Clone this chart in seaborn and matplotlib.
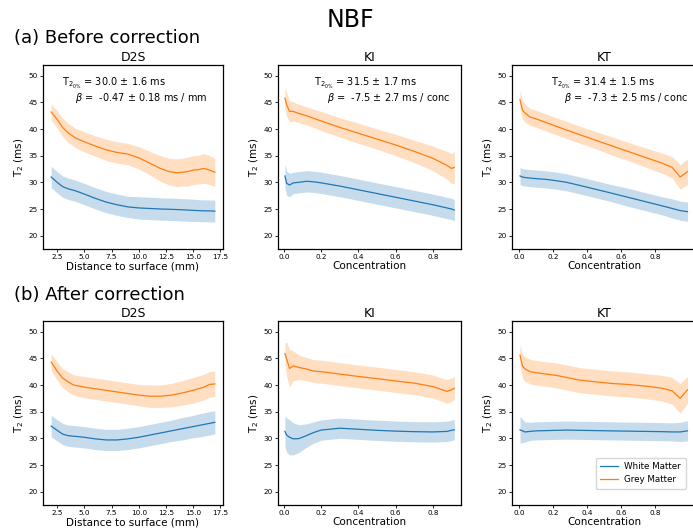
import numpy as np
import pandas as pd
import matplotlib
matplotlib.use('Agg')
import matplotlib.pyplot as plt
import seaborn as sns

# ---- data (mean and sd of T2 in ms) ----
d2s_x = [1.95, 2.5, 3.0, 3.5, 4.2, 5.0, 6.0, 7.0, 8.0, 9.0, 10.0, 11.0,
         12.0, 12.8, 13.5, 14.0, 14.5, 15.0, 15.5, 16.0, 16.5, 17.0]
wm_d2s_before = [31.0, 30.0, 29.2, 28.8, 28.4, 27.8, 27.0, 26.3, 25.8, 25.4, 25.2, 25.1,
                 25.0, 24.95, 24.9, 24.85, 24.8, 24.75, 24.7, 24.65, 24.65, 24.6]
wm_d2s_before_sd = [2.0, 2.0, 2.0, 2.0, 2.0, 2.0, 2.0, 2.0, 2.0, 2.0, 2.1, 2.1,
                    2.1, 2.1, 2.1, 2.1, 2.1, 2.1, 2.05, 2.05, 2.05, 2.05]
gm_d2s_before = [43.2, 41.8, 40.3, 39.3, 38.3, 37.6, 36.8, 36.1, 35.6, 35.3, 34.6, 33.6,
                 32.6, 32.0, 31.8, 31.9, 32.0, 32.3, 32.4, 32.6, 32.3, 31.9]
gm_d2s_before_sd = [1.5, 1.6, 1.7, 1.8, 1.8, 1.9, 1.9, 2.0, 2.0, 2.0, 2.1, 2.2,
                    2.4, 2.5, 2.6, 2.6, 2.7, 2.7, 2.7, 2.8, 2.7, 2.6]

d2s_x_after = [1.95, 2.5, 3.0, 3.5, 4.0, 5.0, 6.0, 7.0, 8.0, 9.0, 10.0, 11.0,
               12.0, 13.0, 14.0, 15.0, 16.0, 16.5, 17.0]
wm_d2s_after = [32.3, 31.5, 30.8, 30.5, 30.4, 30.2, 29.9, 29.7, 29.7, 29.9, 30.2, 30.6,
                31.0, 31.4, 31.8, 32.2, 32.6, 32.8, 33.0]
wm_d2s_after_sd = [2.0, 2.0, 2.0, 2.0, 2.0, 2.0, 2.0, 2.0, 2.0, 2.0, 2.0, 2.0,
                   2.0, 2.0, 2.1, 2.1, 2.2, 2.2, 2.2]
gm_d2s_after = [44.3, 42.6, 41.3, 40.6, 40.0, 39.6, 39.3, 39.0, 38.7, 38.4, 38.1, 37.9,
                37.9, 38.1, 38.5, 39.0, 39.6, 40.1, 40.2]
gm_d2s_after_sd = [1.6, 1.7, 1.8, 1.9, 1.9, 2.0, 2.0, 2.0, 2.0, 2.0, 2.0, 2.1,
                   2.1, 2.2, 2.3, 2.4, 2.4, 2.4, 2.4]

ki_x = [0.005, 0.015, 0.03, 0.05, 0.08, 0.12, 0.16, 0.2, 0.3, 0.4, 0.5, 0.6,
        0.7, 0.8, 0.875, 0.9, 0.915]
wm_ki_before = [31.2, 29.8, 29.5, 29.9, 30.0, 30.2, 30.1, 29.9, 29.3, 28.6, 27.9, 27.2,
                26.5, 25.8, 25.2, 25.0, 24.8]
wm_ki_before_sd = [2.2, 2.3, 2.2, 2.0, 2.0, 2.0, 2.0, 2.0, 2.0, 2.0, 2.0, 2.0,
                   2.0, 2.0, 2.0, 2.0, 2.0]
gm_ki_before = [45.8, 44.5, 43.3, 43.3, 42.9, 42.5, 42.0, 41.5, 40.3, 39.2, 38.1, 37.0,
                35.8, 34.5, 33.2, 32.6, 32.8]
gm_ki_before_sd = [2.0, 2.2, 2.0, 1.8, 1.7, 1.7, 1.7, 1.8, 1.8, 1.9, 1.9, 2.0,
                   2.1, 2.3, 2.6, 2.8, 3.0]
wm_ki_after = [31.3, 30.6, 30.2, 29.9, 29.95, 30.5, 31.1, 31.55, 31.9, 31.7, 31.5, 31.35,
               31.25, 31.2, 31.3, 31.5, 31.6]
wm_ki_after_sd = [2.8, 3.2, 3.3, 3.0, 2.6, 2.2, 2.0, 1.9, 1.9, 1.9, 1.9, 1.9,
                  1.9, 1.9, 1.9, 1.9, 1.9]
gm_ki_after = [45.9, 44.8, 43.1, 43.6, 43.3, 43.0, 42.6, 42.5, 42.05, 41.6, 41.2, 40.75,
               40.35, 39.7, 38.8, 39.1, 39.4]
gm_ki_after_sd = [2.0, 3.2, 3.5, 2.8, 2.3, 2.2, 2.15, 2.15, 2.15, 2.15, 2.15, 2.15,
                  2.15, 2.15, 2.2, 2.2, 2.2]

kt_x = [0.006, 0.02, 0.035, 0.065, 0.1, 0.16, 0.22, 0.28, 0.36, 0.45, 0.54, 0.64,
        0.74, 0.84, 0.9, 0.947, 0.99]
wm_kt_before = [31.2, 31.0, 30.9, 30.8, 30.7, 30.55, 30.3, 30.0, 29.4, 28.7, 28.0, 27.2,
                26.4, 25.6, 25.1, 24.7, 24.5]
wm_kt_before_sd = [1.6, 1.6, 1.6, 1.6, 1.6, 1.6, 1.6, 1.6, 1.6, 1.6, 1.6, 1.7,
                   1.7, 1.7, 1.8, 1.8, 1.8]
gm_kt_before = [45.5, 43.6, 43.0, 42.25, 41.9, 41.2, 40.5, 39.8, 38.9, 37.9, 36.9, 35.8,
                34.7, 33.6, 32.8, 31.0, 32.0]
gm_kt_before_sd = [1.8, 1.8, 1.7, 1.6, 1.6, 1.6, 1.6, 1.6, 1.6, 1.6, 1.7, 1.7,
                   1.8, 1.9, 2.0, 2.3, 2.4]
wm_kt_after = [31.6, 31.4, 31.2, 31.3, 31.4, 31.45, 31.5, 31.55, 31.5, 31.45, 31.4, 31.35,
               31.3, 31.25, 31.2, 31.2, 31.4]
wm_kt_after_sd = [2.5, 2.2, 1.9, 1.7, 1.7, 1.7, 1.7, 1.7, 1.7, 1.7, 1.7, 1.7,
                  1.7, 1.7, 1.7, 1.8, 1.9]
gm_kt_after = [45.6, 43.6, 43.0, 42.5, 42.3, 42.05, 41.8, 41.4, 40.9, 40.6, 40.3, 40.1,
               39.8, 39.4, 38.9, 37.5, 39.1]
gm_kt_after_sd = [2.0, 2.2, 2.3, 2.3, 2.3, 2.3, 2.35, 2.35, 2.35, 2.35, 2.35, 2.35,
                  2.35, 2.4, 2.5, 2.8, 2.5]

titles = ['D2S', 'KI', 'KT']
xlabels = ['Distance to surface (mm)', 'Concentration', 'Concentration']
stats_text = [
    ('T$_{2_{0\\%}}$ = 30.0 ± 1.6 ms', '$\\beta$ =  -0.47 ± 0.18 ms / mm'),
    ('T$_{2_{0\\%}}$ = 31.5 ± 1.7 ms', '$\\beta$ =  -7.5 ± 2.7 ms / conc'),
    ('T$_{2_{0\\%}}$ = 31.4 ± 1.5 ms', '$\\beta$ =  -7.3 ± 2.5 ms / conc'),
]
text_x = [(0.105, 0.18), (0.197, 0.27), (0.21, 0.28)]

panels = [
    [(d2s_x, wm_d2s_before, wm_d2s_before_sd, gm_d2s_before, gm_d2s_before_sd),
     (ki_x, wm_ki_before, wm_ki_before_sd, gm_ki_before, gm_ki_before_sd),
     (kt_x, wm_kt_before, wm_kt_before_sd, gm_kt_before, gm_kt_before_sd)],
    [(d2s_x_after, wm_d2s_after, wm_d2s_after_sd, gm_d2s_after, gm_d2s_after_sd),
     (ki_x, wm_ki_after, wm_ki_after_sd, gm_ki_after, gm_ki_after_sd),
     (kt_x, wm_kt_after, wm_kt_after_sd, gm_kt_after, gm_kt_after_sd)],
]

W, H = 693, 531
fig = plt.figure(figsize=(W / 100, H / 100), dpi=100)

col_left = [43, 278, 512]
col_width = [180, 183, 184]
xlims = [None, (-0.032, 0.951), (-0.041, 1.04)]
row_top = [65, 321]
ax_h = 184

blue = sns.color_palette('tab10')[0]
orange = sns.color_palette('tab10')[1]

for r in range(2):
    for c in range(3):
        rect = [col_left[c] / W, (H - row_top[r] - ax_h) / H, col_width[c] / W, ax_h / H]
        ax = fig.add_axes(rect)
        x, wm, wm_sd, gm, gm_sd = panels[r][c]
        x = np.array(x)
        for mean, sd, col, lab in [(wm, wm_sd, blue, 'White Matter'),
                                   (gm, gm_sd, orange, 'Grey Matter')]:
            mean = np.array(mean)
            sd = np.array(sd)
            df = pd.DataFrame({'x': x, 'y': mean})
            sns.lineplot(data=df, x='x', y='y', ax=ax, color=col, lw=0.9, label=lab)
            ax.fill_between(x, mean - sd, mean + sd, color=col, alpha=0.25, lw=0)
        ax.set_ylim(17.5, 52)
        ax.set_yticks([20, 25, 30, 35, 40, 45, 50])
        if c > 0:
            ax.set_xlim(*xlims[c])
            ax.set_xticks([0.0, 0.2, 0.4, 0.6, 0.8])
        ax.set_title(titles[c], fontsize=9, pad=3)
        ax.set_xlabel(xlabels[c], fontsize=7.5, labelpad=1)
        ax.set_ylabel('T$_2$ (ms)', fontsize=7.5, labelpad=2)
        ax.tick_params(labelsize=5.2, length=2, width=0.6, pad=1.5)
        for s in ax.spines.values():
            s.set_linewidth(0.9)
        if r == 0:
            t1, t2 = stats_text[c]
            ax.text(text_x[c][0], 0.897, t1, transform=ax.transAxes, fontsize=7,
                    ha='left', va='center', clip_on=False)
            ax.text(text_x[c][1], 0.82, t2, transform=ax.transAxes, fontsize=7,
                    ha='left', va='center', clip_on=False)
        if r == 1 and c == 2:
            ax.legend(loc='lower right', fontsize=6.3, bbox_to_anchor=(690 / W, 38 / H),
                      bbox_transform=fig.transFigure, fancybox=True, framealpha=0.8,
                      handlelength=2.0, borderpad=0.5)
        else:
            ax.get_legend().remove()

fig.text(0.505, 0.962, 'NBF', fontsize=17, ha='center', va='center')
fig.text(0.02, 0.928, '(a) Before correction', fontsize=13, ha='left', va='center')
fig.text(0.02, 0.445, '(b) After correction', fontsize=13, ha='left', va='center')

fig.savefig('out.png', dpi=100)
